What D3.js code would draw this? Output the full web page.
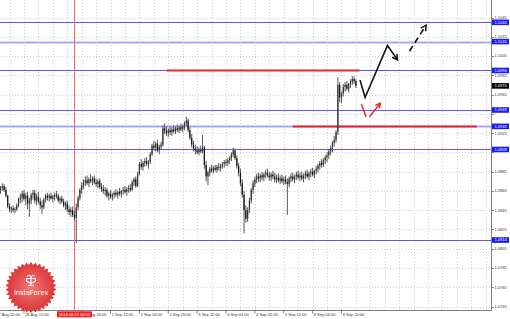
<!DOCTYPE html>
<html><head><meta charset="utf-8">
<script src="https://cdn.jsdelivr.net/npm/d3@7"></script>
<style>
body{margin:0;background:#fff;}
svg{display:block;font-family:"Liberation Sans",Arial,sans-serif;}
</style>
</head><body>
<svg id="c" width="510" height="319"></svg>
<script>
// ---------- DATA (USDCAD H1, 27 Aug 23:00 .. 9 Sep 04:00) ----------
const open=[1.0866,1.0868,1.0870,1.0866,1.0860,1.0849,1.0846,1.0847,1.0845,1.0846,
1.0850,1.0856,1.0858,1.0862,1.0857,1.0860,1.0852,1.0855,1.0861,1.0863,
1.0855,1.0859,1.0854,1.0850,1.0848,1.0856,1.0860,1.0858,1.0860,1.0857,
1.0859,1.0861,1.0860,1.0855,1.0857,1.0854,1.0850,1.0852,1.0846,1.0843,
1.0845,1.0840,1.0837,1.0848,1.0858,1.0866,1.0871,1.0874,1.0876,1.0873,
1.0877,1.0875,1.0878,1.0874,1.0872,1.0875,1.0869,1.0867,1.0865,1.0866,
1.0860,1.0862,1.0859,1.0861,1.0863,1.0861,1.0864,1.0862,1.0865,1.0866,
1.0864,1.0867,1.0868,1.0866,1.0874,1.0877,1.0870,1.0883,1.0893,1.0890,
1.0894,1.0896,1.0893,1.0895,1.0903,1.0912,1.0910,1.0914,1.0907,1.0911,
1.0913,1.0930,1.0927,1.0925,1.0928,1.0926,1.0929,1.0927,1.0930,1.0928,
1.0931,1.0929,1.0932,1.0935,1.0938,1.0928,1.0920,1.0913,1.0909,1.0907,
1.0905,1.0908,1.0906,1.0910,1.0892,1.0880,1.0884,1.0888,1.0886,1.0889,
1.0887,1.0890,1.0889,1.0891,1.0893,1.0895,1.0894,1.0897,1.0899,1.0903,
1.0907,1.0899,1.0891,1.0884,1.0873,1.0861,1.0845,1.0836,1.0845,1.0855,
1.0866,1.0873,1.0877,1.0880,1.0878,1.0881,1.0879,1.0882,1.0884,1.0881,
1.0879,1.0882,1.0880,1.0877,1.0879,1.0876,1.0878,1.0875,1.0877,1.0874,
1.0872,1.0878,1.0880,1.0877,1.0880,1.0882,1.0879,1.0881,1.0878,1.0881,
1.0883,1.0880,1.0883,1.0885,1.0882,1.0886,1.0888,1.0891,1.0894,1.0892,
1.0897,1.0900,1.0902,1.0906,1.0909,1.0915,1.0918,1.0926,1.0975,1.0962,
1.0966,1.0973,1.0975,1.0971,1.0976,1.0978,1.0981,1.0979];
const high=[1.0870,1.0873,1.0872,1.0869,1.0861,1.0852,1.0849,1.0850,1.0848,1.0852,
1.0858,1.0862,1.0865,1.0866,1.0863,1.0864,1.0858,1.0863,1.0866,1.0866,
1.0862,1.0864,1.0858,1.0855,1.0858,1.0862,1.0863,1.0862,1.0863,1.0861,
1.0863,1.0865,1.0862,1.0859,1.0860,1.0857,1.0854,1.0855,1.0850,1.0848,
1.0849,1.0844,1.0852,1.0860,1.0868,1.0874,1.0877,1.0880,1.0881,1.0879,
1.0882,1.0880,1.0881,1.0878,1.0877,1.0878,1.0873,1.0871,1.0869,1.0868,
1.0864,1.0866,1.0863,1.0865,1.0867,1.0865,1.0868,1.0866,1.0869,1.0870,
1.0869,1.0871,1.0872,1.0876,1.0879,1.0880,1.0885,1.0895,1.0898,1.0896,
1.0899,1.0900,1.0897,1.0905,1.0914,1.0917,1.0916,1.0918,1.0913,1.0916,
1.0933,1.0935,1.0932,1.0930,1.0932,1.0931,1.0933,1.0932,1.0934,1.0933,
1.0935,1.0934,1.0937,1.0942,1.0940,1.0931,1.0924,1.0917,1.0913,1.0911,
1.0910,1.0912,1.0923,1.0912,1.0896,1.0886,1.0890,1.0892,1.0891,1.0892,
1.0892,1.0894,1.0893,1.0895,1.0897,1.0898,1.0899,1.0901,1.0905,1.0910,
1.0909,1.0902,1.0894,1.0888,1.0877,1.0865,1.0850,1.0848,1.0858,1.0868,
1.0876,1.0880,1.0883,1.0884,1.0883,1.0885,1.0884,1.0887,1.0888,1.0885,
1.0884,1.0886,1.0884,1.0882,1.0883,1.0881,1.0882,1.0880,1.0881,1.0878,
1.0880,1.0883,1.0884,1.0882,1.0885,1.0886,1.0884,1.0885,1.0883,1.0886,
1.0887,1.0885,1.0888,1.0889,1.0887,1.0891,1.0893,1.0896,1.0898,1.0899,
1.0902,1.0905,1.0908,1.0912,1.0917,1.0922,1.0928,1.0983,1.0978,1.0968,
1.0976,1.0978,1.0979,1.0977,1.0981,1.0984,1.0984,1.0981];
const low=[1.0862,1.0865,1.0864,1.0858,1.0847,1.0843,1.0842,1.0843,1.0842,1.0844,
1.0848,1.0852,1.0853,1.0855,1.0850,1.0846,1.0838,1.0851,1.0856,1.0852,
1.0850,1.0852,1.0846,1.0841,1.0846,1.0853,1.0855,1.0854,1.0856,1.0853,
1.0855,1.0857,1.0853,1.0851,1.0852,1.0848,1.0845,1.0843,1.0840,1.0838,
1.0838,1.0834,1.0811,1.0845,1.0855,1.0862,1.0867,1.0870,1.0871,1.0869,
1.0873,1.0871,1.0872,1.0869,1.0868,1.0867,1.0864,1.0862,1.0860,1.0858,
1.0855,1.0857,1.0855,1.0857,1.0859,1.0857,1.0860,1.0858,1.0861,1.0862,
1.0860,1.0863,1.0864,1.0865,1.0870,1.0868,1.0869,1.0881,1.0887,1.0886,
1.0890,1.0891,1.0888,1.0893,1.0901,1.0907,1.0906,1.0905,1.0903,1.0908,
1.0911,1.0924,1.0922,1.0921,1.0923,1.0922,1.0925,1.0924,1.0926,1.0925,
1.0927,1.0926,1.0928,1.0932,1.0926,1.0918,1.0910,1.0906,1.0903,1.0903,
1.0902,1.0904,1.0904,1.0888,1.0875,1.0871,1.0880,1.0884,1.0883,1.0885,
1.0884,1.0886,1.0885,1.0888,1.0889,1.0891,1.0891,1.0893,1.0896,1.0900,
1.0897,1.0888,1.0880,1.0870,1.0858,1.0821,1.0832,1.0833,1.0842,1.0852,
1.0862,1.0869,1.0873,1.0874,1.0874,1.0876,1.0875,1.0878,1.0879,1.0876,
1.0875,1.0877,1.0874,1.0873,1.0874,1.0872,1.0873,1.0871,1.0872,1.0840,
1.0869,1.0874,1.0875,1.0873,1.0876,1.0877,1.0875,1.0876,1.0874,1.0877,
1.0878,1.0876,1.0879,1.0880,1.0878,1.0882,1.0884,1.0887,1.0889,1.0890,
1.0893,1.0895,1.0898,1.0902,1.0905,1.0911,1.0915,1.0923,1.0957,1.0956,
1.0963,1.0968,1.0969,1.0967,1.0972,1.0975,1.0976,1.0972];
const close=[1.0868,1.0870,1.0866,1.0860,1.0849,1.0846,1.0847,1.0845,1.0846,1.0850,
1.0856,1.0858,1.0862,1.0857,1.0860,1.0852,1.0855,1.0861,1.0863,1.0855,
1.0859,1.0854,1.0850,1.0848,1.0856,1.0860,1.0858,1.0860,1.0857,1.0859,
1.0861,1.0860,1.0855,1.0857,1.0854,1.0850,1.0852,1.0846,1.0843,1.0845,
1.0840,1.0837,1.0848,1.0858,1.0866,1.0871,1.0874,1.0876,1.0873,1.0877,
1.0875,1.0878,1.0874,1.0872,1.0875,1.0869,1.0867,1.0865,1.0866,1.0860,
1.0862,1.0859,1.0861,1.0863,1.0861,1.0864,1.0862,1.0865,1.0866,1.0864,
1.0867,1.0868,1.0866,1.0874,1.0877,1.0870,1.0883,1.0893,1.0890,1.0894,
1.0896,1.0893,1.0895,1.0903,1.0912,1.0910,1.0914,1.0907,1.0911,1.0913,
1.0930,1.0927,1.0925,1.0928,1.0926,1.0929,1.0927,1.0930,1.0928,1.0931,
1.0929,1.0932,1.0935,1.0938,1.0928,1.0920,1.0913,1.0909,1.0907,1.0905,
1.0908,1.0906,1.0910,1.0892,1.0880,1.0884,1.0888,1.0886,1.0889,1.0887,
1.0890,1.0889,1.0891,1.0893,1.0895,1.0894,1.0897,1.0899,1.0903,1.0907,
1.0899,1.0891,1.0884,1.0873,1.0861,1.0845,1.0836,1.0845,1.0855,1.0866,
1.0873,1.0877,1.0880,1.0878,1.0881,1.0879,1.0882,1.0884,1.0881,1.0879,
1.0882,1.0880,1.0877,1.0879,1.0876,1.0878,1.0875,1.0877,1.0874,1.0872,
1.0878,1.0880,1.0877,1.0880,1.0882,1.0879,1.0881,1.0878,1.0881,1.0883,
1.0880,1.0883,1.0885,1.0882,1.0886,1.0888,1.0891,1.0894,1.0892,1.0897,
1.0900,1.0902,1.0906,1.0909,1.0915,1.0918,1.0926,1.0975,1.0962,1.0966,
1.0973,1.0975,1.0971,1.0976,1.0978,1.0981,1.0979,1.0974];

const priceTicks=[1.0745,1.0765,1.0785,1.0805,1.0825,1.0845,1.0865,1.0885,1.0905,1.0925,1.0945,1.0965,1.0985,1.1005,1.1025,1.1045];
const timeLabels=["27 Aug 20:00","28 Aug 12:00","29 Aug 20:00","1 Sep 12:00","2 Sep 04:00","2 Sep 20:00","3 Sep 12:00","4 Sep 04:00","4 Sep 20:00","5 Sep 12:00","8 Sep 04:00","8 Sep 20:00"];
const timeLabelBars=[-3,13,45,61,77,93,109,125,141,157,173,189];
const gridStartBar=-3, gridStepBars=8;

const blueLevels=[1.1040,1.1020,1.0990,1.0949,1.0932,1.0908,1.0814];
const blueLevelLabels=["1.1040","1.1020","1.0990","1.0949","1.0932","1.0908","1.0814"];
const blueLevelLight=[false,true,false,false,true,false,false];
const lastPrice=1.0974, lastPriceLabel="1.0974";

const redLevels=[1.0990,1.0932];
const redLevelFrom=[92,162];
const redLevelTo=[199,264];
const markerBar=41, markerLabel="2014.08.29 16:00";

// forecast arrows, in (bar index, price)
const solidArrow=[[199.3,1.0980],[202.1,1.0962],[214.5,1.1016],[220.1,1.1001]];
const dashedArrow=[[226.7,1.1010],[235.9,1.1037]];
const redArrowLeg1=[[200.1,1.0955],[202.6,1.0942]];
const redArrowLeg2=[[204.5,1.0942],[210.6,1.0956]];

// ---------- DRAW ----------
const right=491.5, bottom=310.5;
const svg=d3.select("#c");
const x=d3.scaleLinear().domain([0,197]).range([0.5,0.5+197*1.804]);
const y=d3.scaleLinear().domain([1.0745,1.1045]).range([306.5,17.5]);
const ys=p=>Math.round(y(p))+0.5;   // pixel-snapped

const defs=svg.append("defs");
defs.append("clipPath").attr("id","plot").append("rect").attr("x",0).attr("y",0).attr("width",right).attr("height",bottom);
const g=svg.append("g").attr("clip-path","url(#plot)");

// vertical grid every 8 bars
const vg=d3.range(gridStartBar,280,gridStepBars);
g.selectAll(".vg").data(vg).enter().append("line")
 .attr("x1",d=>Math.round(x(d))+0.5).attr("x2",d=>Math.round(x(d))+0.5)
 .attr("y1",0).attr("y2",bottom)
 .attr("stroke","#c4c4c4").attr("stroke-width",0.8).attr("stroke-dasharray","1,2");
// horizontal grid
g.selectAll(".hg").data(priceTicks).enter().append("line")
 .attr("x1",0).attr("x2",right)
 .attr("y1",ys).attr("y2",ys)
 .attr("stroke","#c4c4c4").attr("stroke-width",0.8).attr("stroke-dasharray","1,2");

// blue levels
g.selectAll(".bl").data(blueLevels).enter().append("line")
 .attr("x1",0).attr("x2",right)
 .attr("y1",ys).attr("y2",ys)
 .attr("stroke",(d,i)=>blueLevelLight[i]?"#a4a8ff":"#5a5af2")
 .attr("stroke-width",(d,i)=>blueLevelLight[i]?2:1);

// red levels
g.selectAll(".rl").data(redLevels).enter().append("line")
 .attr("x1",(d,i)=>x(redLevelFrom[i])).attr("x2",(d,i)=>x(redLevelTo[i]))
 .attr("y1",ys).attr("y2",ys)
 .attr("stroke","#e8262a").attr("stroke-width",1.8);

// marker vertical line
g.append("line").attr("x1",Math.round(x(markerBar))+0.5).attr("x2",Math.round(x(markerBar))+0.5).attr("y1",0).attr("y2",bottom)
 .attr("stroke","#f06a6a").attr("stroke-width",1);

// candles
const idx=d3.range(open.length);
g.selectAll(".wick").data(idx).enter().append("line")
 .attr("x1",i=>x(i)).attr("x2",i=>x(i))
 .attr("y1",i=>y(high[i])).attr("y2",i=>y(low[i]))
 .attr("stroke","#555").attr("stroke-width",1);
g.selectAll(".body").data(idx).enter().append("rect")
 .attr("x",i=>x(i)-0.6).attr("width",1.2)
 .attr("y",i=>y(Math.max(open[i],close[i])))
 .attr("height",i=>Math.max(0.8,Math.abs(y(open[i])-y(close[i]))))
 .attr("fill",i=>close[i]>=open[i]?"#333":"#111");

// arrows
const line=d3.line().x(d=>x(d[0])).y(d=>y(d[1]));
function head(pts,len){
  const n=pts.length, P=[x(pts[n-1][0]),y(pts[n-1][1])], Q=[x(pts[n-2][0]),y(pts[n-2][1])];
  const a=Math.atan2(Q[1]-P[1],Q[0]-P[0]);
  const r=[a-0.5,a+0.5].map(t=>[P[0]+len*Math.cos(t),P[1]+len*Math.sin(t)]);
  return `M${r[0][0]},${r[0][1]}L${P[0]},${P[1]}L${r[1][0]},${r[1][1]}`;
}
svg.append("path").attr("d",line(solidArrow)).attr("fill","none").attr("stroke","#111").attr("stroke-width",1.6);
svg.append("path").attr("d",head(solidArrow,6)).attr("fill","none").attr("stroke","#111").attr("stroke-width",1.5);
svg.append("path").attr("d",line(dashedArrow)).attr("fill","none").attr("stroke","#111").attr("stroke-width",1.6).attr("stroke-dasharray","6,4");
svg.append("path").attr("d",head(dashedArrow,6)).attr("fill","none").attr("stroke","#111").attr("stroke-width",1.5);
svg.append("path").attr("d",line(redArrowLeg1)).attr("fill","none").attr("stroke","#e8262a").attr("stroke-width",1.5);
svg.append("path").attr("d",line(redArrowLeg2)).attr("fill","none").attr("stroke","#e8262a").attr("stroke-width",1.5);
svg.append("path").attr("d",head(redArrowLeg2,5.5)).attr("fill","none").attr("stroke","#e8262a").attr("stroke-width",1.4);

// frame
svg.append("line").attr("x1",right).attr("x2",right).attr("y1",0).attr("y2",bottom).attr("stroke","#808080").attr("stroke-width",1);
svg.append("line").attr("x1",0).attr("x2",right).attr("y1",bottom).attr("y2",bottom).attr("stroke","#808080").attr("stroke-width",1);

// price axis (tick labels hidden under level boxes are skipped, as in the terminal)
const boxPrices=blueLevels.concat([lastPrice]);
const visibleTicks=priceTicks.filter(p=>boxPrices.every(b=>Math.abs(y(b)-y(p))>=4.6));
const pa=svg.append("g");
pa.selectAll("line").data(priceTicks).enter().append("line")
 .attr("x1",right).attr("x2",right+2.5).attr("y1",ys).attr("y2",ys).attr("stroke","#666").attr("stroke-width",0.8);
pa.selectAll("text").data(visibleTicks).enter().append("text")
 .attr("x",494.5).attr("y",d=>y(d)+1.4).attr("font-size",4).attr("fill","#333").text(d=>d.toFixed(4));

// level label boxes
const lb=svg.append("g");
const boxes=blueLevels.map((p,i)=>({p,t:blueLevelLabels[i],c:"#1a1aff"})).concat([{p:lastPrice,t:lastPriceLabel,c:"#000"}]);
lb.selectAll("rect").data(boxes).enter().append("rect")
 .attr("x",492).attr("y",d=>y(d.p)-2.8).attr("width",17).attr("height",5.6).attr("fill",d=>d.c);
lb.selectAll("text").data(boxes).enter().append("text")
 .attr("x",494.5).attr("y",d=>y(d.p)+1.4).attr("font-size",4).attr("fill","#fff").text(d=>d.t);

// time axis
const ta=svg.append("g");
ta.selectAll("line").data(timeLabelBars).enter().append("line")
 .attr("x1",d=>x(d)).attr("x2",d=>x(d)).attr("y1",bottom).attr("y2",bottom+3).attr("stroke","#666").attr("stroke-width",0.8);
ta.selectAll("text").data(timeLabels).enter().append("text")
 .attr("x",(d,i)=>x(timeLabelBars[i])+1.2).attr("y",316.3).attr("font-size",4).attr("fill","#333").text(d=>d);
// marker time box
ta.append("rect").attr("x",x(markerBar)-17.5).attr("y",311.3).attr("width",35).attr("height",6).attr("fill","#ff1a1a");
ta.append("text").attr("x",x(markerBar)).attr("y",316.1).attr("text-anchor","middle").attr("font-size",4).attr("fill","#fff").text(markerLabel);

// InstaForex logo
const grad=defs.append("radialGradient").attr("id","lg");
grad.append("stop").attr("offset","0%").attr("stop-color","#f47878");
grad.append("stop").attr("offset","100%").attr("stop-color","#d83434");
const cx=31, cy=287.5, nP=34, rO=25.5, rI=22.5;
const star=d3.range(nP*2).map(k=>{const a=k*Math.PI/nP - Math.PI/2; const r=k%2?rI:rO; return [cx+r*Math.cos(a), cy+r*Math.sin(a)];});
svg.append("path").attr("d","M"+star.map(p=>p.join(",")).join("L")+"Z").attr("fill","url(#lg)");
const ic=svg.append("g").attr("fill","none").attr("stroke","#fff").attr("stroke-width",1.1);
ic.append("path").attr("d",`M${cx-4},${cy-11} q2,-3 4,1 q2,-4 4,-1 M${cx-4.5},${cy-9} h9 v2.5 q-4.5,4 -9,0 z M${cx},${cy-9} v7 M${cx-3},${cy-2} h6`);
svg.append("text").attr("x",cx).attr("y",cy+7.5).attr("text-anchor","middle")
 .attr("font-size",7).attr("fill","#fff").attr("font-family","'Open Sans',Arial,sans-serif").text("InstaForex");
</script>
</body></html>
